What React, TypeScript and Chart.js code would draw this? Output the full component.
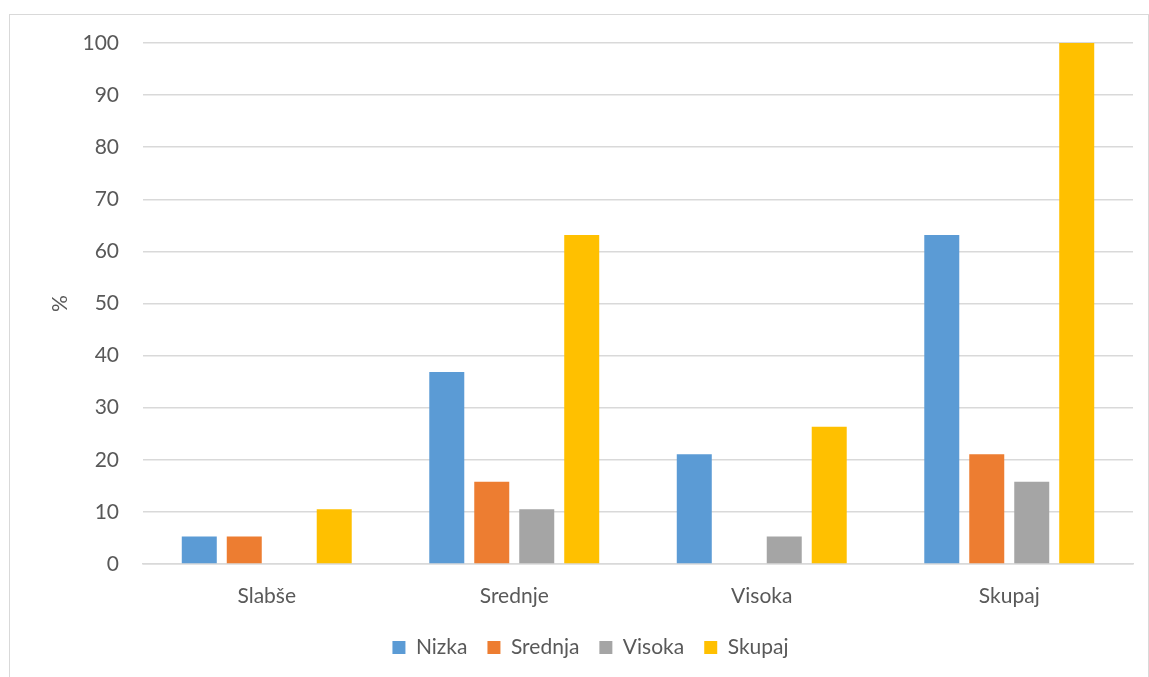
import React, { useEffect, useRef } from "react";
import { Chart, registerables } from "chart.js";

Chart.register(...registerables);

// Deleži po skupinah (v %)
const categories = ["Slabše", "Srednje", "Visoka", "Skupaj"];
const nizka = [5.26, 36.84, 21.05, 63.16];
const srednja = [5.26, 15.79, 0, 21.05];
const visoka = [0, 10.53, 5.26, 15.79];
const skupaj = [10.53, 63.16, 26.32, 100];
const seriesNames = ["Nizka", "Srednja", "Visoka", "Skupaj"];
const seriesColors = ["#5B9BD5", "#ED7D31", "#A5A5A5", "#FFC000"];
const yTicks = [0, 10, 20, 30, 40, 50, 60, 70, 80, 90, 100];

const FONT = "Lato, 'Liberation Sans', sans-serif";
const TEXT = "#595959";
const GRID = "#d9d9d9";

export default function App() {
  const canvasRef = useRef<HTMLCanvasElement | null>(null);

  useEffect(() => {
    document.body.style.overflow = "hidden";
    const canvas = canvasRef.current;
    if (!canvas) return;
    const values = [nizka, srednja, visoka, skupaj];
    const chart = new Chart(canvas, {
      type: "bar",
      data: {
        labels: categories,
        datasets: seriesNames.map((name, i) => ({
          label: name,
          data: values[i],
          backgroundColor: seriesColors[i],
          borderWidth: 0,
          categoryPercentage: 0.727,
          barPercentage: 0.778,
        })),
      },
      options: {
        animation: false,
        responsive: false,
        maintainAspectRatio: false,
        layout: { padding: { left: 38, right: 16, top: 28, bottom: 9 } },
        plugins: {
          legend: {
            position: "bottom",
            labels: {
              boxWidth: 13,
              boxHeight: 13,
              padding: 20,
              color: TEXT,
              font: { family: FONT, size: 21 },
            },
          },
          tooltip: { enabled: false },
        },
        scales: {
          x: {
            grid: { display: false },
            border: { display: true, color: GRID, width: 1.5 },
            ticks: { color: TEXT, font: { family: FONT, size: 21 }, padding: 12 },
            afterFit: (scale: any) => {
              scale.height = 53;
            },
          },
          y: {
            min: 0,
            max: 100,
            afterBuildTicks: (scale: any) => {
              scale.ticks = yTicks.map((v) => ({ value: v }));
            },
            grid: {
              color: GRID,
              lineWidth: 1.5,
              drawTicks: true,
              tickLength: 24,
              tickColor: "rgba(0,0,0,0)",
            },
            border: { display: false },
            ticks: { color: TEXT, font: { family: FONT, size: 21 }, padding: 0 },
            title: {
              display: true,
              text: "%",
              color: TEXT,
              font: { family: FONT, size: 21 },
              padding: 0,
            },
            afterFit: (scale: any) => {
              scale.width = 95;
            },
          },
        },
      },
    });
    return () => chart.destroy();
  }, []);

  return (
    <div
      style={{
        position: "absolute",
        left: 9,
        top: 14,
        width: 1140,
        height: 663,
        boxSizing: "border-box",
        border: "1px solid #d9d9d9",
        borderBottom: "none",
        background: "#fff",
      }}
    >
      <canvas ref={canvasRef} width={1139} height={662} style={{ display: "block" }} />
    </div>
  );
}
